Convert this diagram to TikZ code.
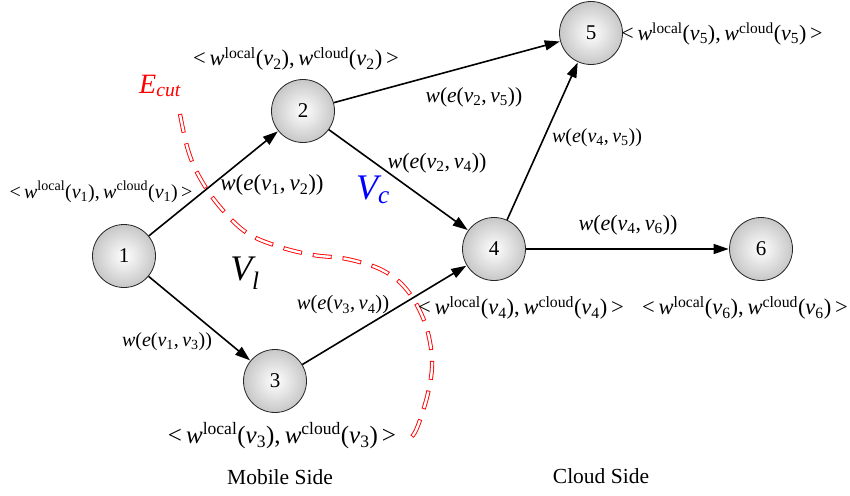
\documentclass[tikz,border=0pt]{standalone}
\usepackage{fontspec}
\setmainfont{Liberation Serif}[Ligatures=TeX]
\newfontfamily\tnr{Liberation Serif}
\usetikzlibrary{arrows.meta}

% vertex weight pair  < w^local(v_i), w^cloud(v_i) >
\newcommand{\wpair}[1]{<\,\textit{w}\textsuperscript{local}(\textit{v}\textsubscript{#1}),\,\textit{w}\textsuperscript{cloud}(\textit{v}\textsubscript{#1})\,>}
% edge weight  w(e(v_i,v_j))
\newcommand{\eweight}[2]{\textit{w}(\textit{e}(\textit{v}\textsubscript{#1},\,\textit{v}\textsubscript{#2}))}
\newcommand{\fs}[1]{\fontsize{#1}{#1}\selectfont}

\tikzset{
  vertex/.style={circle, draw=black!85, line width=0.8pt, minimum size=63pt,
    inner sep=0pt, inner color=white, outer color=black!22,
    font=\tnr\fs{21}},
  wlabel/.style={inner sep=0pt, font=\tnr\fs{22.5}},
  side/.style={inner sep=0pt, font=\tnr\fs{21.5}},
  setname/.style={inner sep=0pt, font=\tnr\fs{36}\itshape},
  link/.style={line width=1.6pt, -{Triangle[length=15pt,width=10pt]}, shorten >=0.5pt},
}

\begin{document}
\begin{tikzpicture}[x=1pt, y=-1pt]
\useasboundingbox (0,0) rectangle (850,495);

% cut curve (hollow red dashes)
\def\cutpath{plot[smooth, tension=0.6] coordinates {(180,114) (188,150) (200,178) (220,207) (247,233) (280,247) (313,255) (347,259) (382,270) (407,290) (425,323) (432,360) (428,393) (417,428) (409,440)}}
\draw[red, line width=4.2pt, dash pattern=on 19pt off 11pt] \cutpath;
\draw[white, line width=2.4pt, dash pattern=on 17.2pt off 12.8pt, dash phase=-0.9pt] \cutpath;

% vertices
\node[vertex] (n1) at (124,256) {1};
\node[vertex] (n2) at (303,111) {2};
\node[vertex] (n3) at (275,381) {3};
\node[vertex] (n4) at (494,249) {4};
\node[vertex] (n5) at (591,33) {5};
\node[vertex] (n6) at (761,249) {6};

% edges
\draw[link] (n1) -- (n2);
\draw[link] (n1) -- (n3);
\draw[link] (n2) -- (n4);
\draw[link] (n3) -- (n4);
\draw[link] (n2) -- (n5);
\draw[link] (n4) -- (n5);
\draw[link] (n4) -- (n6);

% vertex weights
\node[wlabel, font=\tnr\fs{20}] (p1) at (101,192) {\wpair{1}};
\node[wlabel] (p2) at (296,59) {\wpair{2}};
\node[wlabel, font=\tnr\fs{25}] (p3) at (282,436) {\wpair{3}};
\node[wlabel] (p4) at (521,308) {\wpair{4}};
\node[wlabel, font=\tnr\fs{22}] (p5) at (722,34) {\wpair{5}};
\node[wlabel] (p6) at (745,308) {\wpair{6}};

% edge weights
\node[wlabel, font=\tnr\fs{23}] (w12) at (272,185) {\eweight{1}{2}};
\node[wlabel, font=\tnr\fs{20}] (w13) at (167,342) {\eweight{1}{3}};
\node[wlabel, font=\tnr\fs{22}] (w24) at (437,163) {\eweight{2}{4}};
\node[wlabel, font=\tnr\fs{21.5}] (w25) at (474,97) {\eweight{2}{5}};
\node[wlabel, font=\tnr\fs{20.5}] (w34) at (343,305) {\eweight{3}{4}};
\node[wlabel, font=\tnr\fs{20}] (w45) at (597,138) {\eweight{4}{5}};
\node[wlabel, font=\tnr\fs{22}] (w46) at (628,225) {\eweight{4}{6}};

% partition names
\node[setname, text=blue] (vc) at (373,190) {V\textsubscript{c}};
\node[setname] (vl) at (245,273) {V\textsubscript{l}};
\node[inner sep=0pt, text=red, font=\tnr\fs{28}\itshape] (ecut) at (160,86) {E\textsubscript{cut}};

% sides
\node[side] (mob) at (280,477) {Mobile Side};
\node[side] (cld) at (601,476) {Cloud Side};
\end{tikzpicture}
\end{document}
